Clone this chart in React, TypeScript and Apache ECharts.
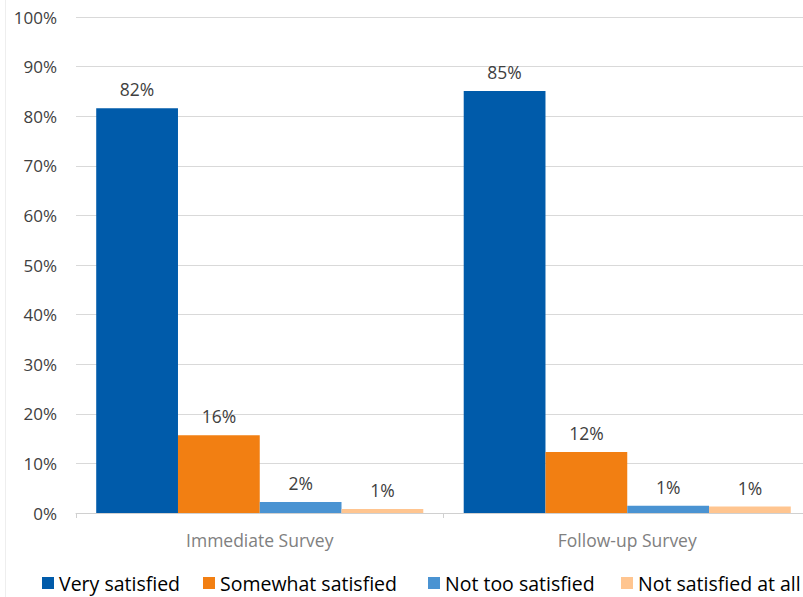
import React, { useEffect, useRef } from "react";
import * as echarts from "echarts";

// Survey waves on the x axis
const categories = ["Immediate Survey", "Follow-up Survey"];

// Share of respondents per satisfaction level (%)
const verySatisfied = [81.6, 85.1];
const somewhatSatisfied = [15.7, 12.3];
const notTooSatisfied = [2.2, 1.45];
const notSatisfiedAtAll = [0.8, 1.3];

const seriesNames = [
  "Very satisfied",
  "Somewhat satisfied",
  "Not too satisfied",
  "Not satisfied at all",
];
const seriesColors = ["#005BAA", "#F27F12", "#4A93D2", "#FFC590"];
// left edge of each legend entry along the bottom row
const legendLefts = [42, 203, 428, 621];

const FONT = "'Open Sans', 'DejaVu Sans', sans-serif";

export default function App() {
  const ref = useRef<HTMLDivElement>(null);

  useEffect(() => {
    if (!ref.current) return;
    const chart = echarts.init(ref.current, undefined, { renderer: "svg" });
    const values = [verySatisfied, somewhatSatisfied, notTooSatisfied, notSatisfiedAtAll];

    chart.setOption({
      animation: false,
      backgroundColor: "#ffffff",
      grid: {
        left: 76,
        right: -8,
        top: 17,
        bottom: 84,
        containLabel: false,
        outerBoundsMode: "none",
      },
      legend: seriesNames.map((name, i) => ({
        left: legendLefts[i],
        top: 573,
        padding: 0,
        itemWidth: 12,
        itemHeight: 12,
        icon: "rect",
        textStyle: { fontFamily: FONT, fontSize: 19.5, lineHeight: 20, color: "#000000" },
        data: [name],
      })),
      xAxis: {
        type: "category",
        data: categories,
        axisLine: { show: true, lineStyle: { color: "#d0d0d0", width: 1 } },
        axisTick: { show: true, length: 5, lineStyle: { color: "#d0d0d0" } },
        axisLabel: {
          margin: 18,
          fontFamily: FONT,
          fontSize: 17.5,
          color: "#808080",
        },
      },
      yAxis: {
        type: "value",
        min: 0,
        max: 100,
        interval: 10,
        axisLine: { show: false },
        axisTick: { show: false },
        splitLine: { lineStyle: { color: "#d9d9d9", width: 1 } },
        axisLabel: {
          margin: 19,
          formatter: "{value}%",
          fontFamily: FONT,
          fontSize: 17,
          color: "#404040",
        },
      },
      series: seriesNames.map((name, i) => ({
        name,
        type: "bar",
        data: values[i],
        barGap: "0%",
        barCategoryGap: "11%",
        itemStyle: { color: seriesColors[i] },
        label: {
          show: true,
          position: "top",
          distance: 10,
          fontFamily: FONT,
          fontSize: 17.5,
          color: "#404040",
          formatter: (p: any) => `${Math.round(p.value)}%`,
        },
      })),
      graphic: [
        {
          type: "line",
          shape: { x1: 5.5, y1: 0, x2: 5.5, y2: 597 },
          style: { stroke: "#eeeeee", lineWidth: 1 },
          silent: true,
        },
      ],
    });

    return () => chart.dispose();
  }, []);

  return (
    <div
      ref={ref}
      style={{ position: "fixed", left: 0, top: 0, width: 803, height: 597 }}
    />
  );
}
